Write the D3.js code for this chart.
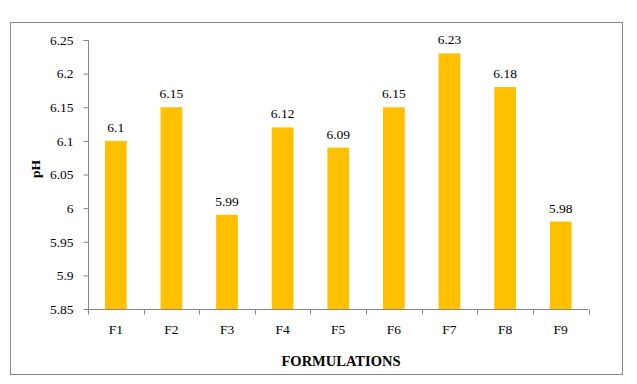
<!DOCTYPE html>
<html>
<head>
<meta charset="utf-8">
<script src="https://cdn.jsdelivr.net/npm/d3@7"></script>
<style>
  body { margin: 0; background: #fff; }
  text { font-family: "Times New Roman", "Liberation Serif", serif; fill: #000; }
</style>
</head>
<body>
<svg id="chart"></svg>
<script>
const categories = ["F1", "F2", "F3", "F4", "F5", "F6", "F7", "F8", "F9"];
const phValues = [6.1, 6.15, 5.99, 6.12, 6.09, 6.15, 6.23, 6.18, 5.98];
const yTicks = [5.85, 5.9, 5.95, 6, 6.05, 6.1, 6.15, 6.2, 6.25];

const width = 637, height = 384;
const margin = { left: 88, right: 47, top: 40, bottom: 75 };

const svg = d3.select("#chart").attr("width", width).attr("height", height);

// outer frame
svg.append("rect")
  .attr("x", 10.5).attr("y", 22.5)
  .attr("width", 612).attr("height", 352)
  .attr("fill", "none").attr("stroke", "#868686").attr("stroke-width", 1);

const x = d3.scaleBand()
  .domain(categories)
  .range([margin.left, width - margin.right - 1.5])
  .paddingInner(0.61).paddingOuter(0.305);

const y = d3.scaleLinear()
  .domain([5.85, 6.25])
  .range([309, 40]);

const axisColor = "#868686";

// bars
svg.append("g").selectAll("rect")
  .data(phValues)
  .join("rect")
  .attr("x", (d, i) => x(categories[i]))
  .attr("y", d => y(d))
  .attr("width", x.bandwidth())
  .attr("height", d => y(5.85) - y(d))
  .attr("fill", "#FFC000");

// value labels
svg.append("g").selectAll("text")
  .data(phValues)
  .join("text")
  .attr("x", (d, i) => x(categories[i]) + x.bandwidth() / 2)
  .attr("y", d => y(d) - 9)
  .attr("text-anchor", "middle")
  .attr("font-size", 13.5)
  .text(d => d);

// y axis
const yAxis = svg.append("g")
  .attr("transform", `translate(${margin.left + 0.5},0)`)
  .call(d3.axisLeft(y).tickValues(yTicks).tickSize(5).tickPadding(10).tickFormat(d => d3.format("")(+d.toFixed(2))));
yAxis.select(".domain").attr("stroke", axisColor).attr("d", `M-5,${y(6.25) + 0.5}H0V${y(5.85) + 0.5}`);
yAxis.selectAll(".tick line").attr("stroke", axisColor);
yAxis.selectAll(".tick text").attr("font-size", 13.5).attr("fill", "#000");

// x axis
const x0 = margin.left, x1 = width - margin.right - 1.5;
const step = (x1 - x0) / categories.length;
const xAxis = svg.append("g").attr("transform", `translate(0,${y(5.85) + 0.5})`);
xAxis.append("path")
  .attr("d", `M${x0},0H${x1}`)
  .attr("stroke", axisColor).attr("fill", "none");
xAxis.selectAll("line")
  .data(d3.range(categories.length + 1))
  .join("line")
  .attr("x1", i => Math.round(x0 + i * step) + 0.5)
  .attr("x2", i => Math.round(x0 + i * step) + 0.5)
  .attr("y1", 0).attr("y2", 5)
  .attr("stroke", axisColor);
xAxis.selectAll("text")
  .data(categories)
  .join("text")
  .attr("x", d => x(d) + x.bandwidth() / 2)
  .attr("y", 24)
  .attr("text-anchor", "middle")
  .attr("font-size", 13.5)
  .text(d => d);

// axis titles
svg.append("text")
  .attr("transform", `translate(40,169) rotate(-90)`)
  .attr("text-anchor", "middle")
  .attr("font-size", 13.5)
  .attr("font-weight", "bold")
  .text("pH");

svg.append("text")
  .attr("x", 341)
  .attr("y", 366)
  .attr("text-anchor", "middle")
  .attr("font-size", 14.5)
  .attr("font-weight", "bold")
  .text("FORMULATIONS");
</script>
</body>
</html>
